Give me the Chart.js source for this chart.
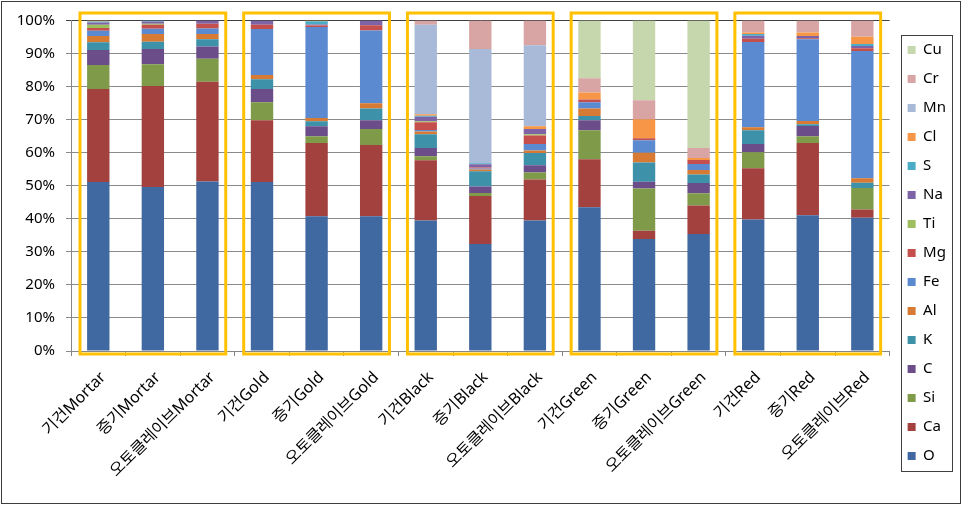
<!DOCTYPE html>
<html>
<head>
<meta charset="utf-8">
<script src="https://cdn.jsdelivr.net/npm/chart.js@4/dist/chart.umd.min.js"></script>
<style>
  html, body { margin: 0; padding: 0; background: #fff; }
  #wrap { width: 963px; height: 506px; position: relative; }
</style>
</head>
<body>
<div id="wrap"><canvas id="chart"></canvas></div>
<script>
// 카테고리
const categories = [
  '기건Mortar', '증기Mortar', '오토클레이브Mortar',
  '기건Gold', '증기Gold', '오토클레이브Gold',
  '기건Black', '증기Black', '오토클레이브Black',
  '기건Green', '증기Green', '오토클레이브Green',
  '기건Red', '증기Red', '오토클레이브Red'
];

// 원소별 비율 (%), 아래에서 위로 쌓이는 순서
const O  = [51.1, 49.6, 51.3, 51.1, 40.8, 40.8, 39.5, 32.4, 39.5, 43.5, 33.9, 35.4, 39.8, 41.1, 40.3];
const Ca = [28.2, 30.6, 30.2, 18.7, 22.1, 21.5, 18.2, 14.5, 12.4, 14.5, 2.5, 8.6, 15.5, 21.8, 2.5];
const Si = [7.2, 6.6, 6.9, 5.5, 2.1, 4.9, 1.2, 0.9, 2.1, 8.8, 12.8, 3.7, 4.8, 2.1, 6.5];
const C  = [4.6, 4.6, 3.7, 4.0, 3.0, 2.6, 2.5, 2.0, 2.2, 3.0, 2.0, 3.1, 2.5, 3.1, 0];
const K  = [2.3, 2.2, 2.2, 2.9, 1.5, 3.6, 4.2, 4.6, 3.7, 1.3, 5.8, 2.6, 4.2, 0.5, 1.6];
const Al = [1.9, 2.3, 1.6, 1.3, 1.0, 1.6, 0.8, 0.5, 0.8, 2.3, 3.0, 1.4, 0.9, 1.0, 1.4];
const Fe = [1.6, 1.6, 1.7, 13.9, 27.5, 22.0, 0.5, 0.3, 1.9, 1.9, 3.8, 1.8, 25.8, 24.7, 38.5];
const Mg = [0.8, 1.2, 1.4, 1.3, 0.5, 1.6, 2.3, 0.3, 2.6, 0.8, 0.6, 1.2, 1.0, 0.3, 0.8];
const Ti = [1.0, 0.3, 0, 0, 0, 0, 0.3, 0, 0.4, 0, 0, 0, 0, 0, 0];
const Na = [0.7, 0.7, 1.0, 1.3, 0.3, 1.4, 1.4, 1.0, 1.6, 0, 0, 0, 0.9, 0.7, 0.7];
const S  = [0.3, 0.3, 0, 0, 1.0, 0, 0.3, 0.3, 0, 0, 0, 0, 0.5, 0, 0.6];
const Cl = [0.3, 0, 0, 0, 0.2, 0, 0.4, 0, 0.8, 2.1, 5.7, 0.6, 0.5, 1.1, 2.2];
const Mn = [0, 0, 0, 0, 0, 0, 27.1, 34.6, 24.5, 0, 0, 0, 0, 0, 0];
const Cr = [0, 0, 0, 0, 0, 0, 1.3, 8.6, 7.5, 4.3, 5.8, 3.0, 3.6, 3.6, 4.9];
const Cu = [0, 0, 0, 0, 0, 0, 0, 0, 0, 17.5, 24.1, 38.6, 0, 0, 0];

const seriesNames = ['O', 'Ca', 'Si', 'C', 'K', 'Al', 'Fe', 'Mg', 'Ti', 'Na', 'S', 'Cl', 'Mn', 'Cr', 'Cu'];
const seriesValues = [O, Ca, Si, C, K, Al, Fe, Mg, Ti, Na, S, Cl, Mn, Cr, Cu];
const seriesColors = [
  '#4169A1', '#A2413E', '#7F9B4A', '#6B4D8A', '#3D91A9', '#D67A34', '#5B8AD0',
  '#C44F4C', '#9EBD5C', '#7E63A6', '#4BACC6', '#F79646', '#A9BAD8', '#D9A5A4', '#C6D7AE'
];

const tickLabels = ['0%', '10%', '20%', '30%', '40%', '50%', '60%', '70%', '80%', '90%', '100%'];

// 100% 누적: 카테고리별 합계로 정규화
const totals = categories.map((_, i) => seriesValues.reduce((s, arr) => s + arr[i], 0));

const FONT = '"Noto Sans", "Noto Sans CJK KR", sans-serif';

/**
 * 그룹 강조 박스 (노란 테두리)
 */
const groupBoxes = {
  id: 'groupBoxes',
  afterDatasetsDraw(chart) {
    const { ctx, scales: { x, y } } = chart;
    const top = y.getPixelForValue(100) - 7.5;
    const bottom = y.getPixelForValue(0) + 3;
    ctx.save();
    ctx.strokeStyle = '#FFC000';
    ctx.lineWidth = 3;
    for (let g = 0; g < 5; g++) {
      const left = x.getPixelForValue(g * 3) - 18.3;
      const right = x.getPixelForValue(g * 3 + 2) + 18.3;
      ctx.strokeRect(left, top, right - left, bottom - top);
    }
    ctx.restore();
  }
};

/**
 * 범례 테두리 + 전체 외곽선
 */
const frames = {
  id: 'frames',
  afterDraw(chart) {
    const { ctx, legend } = chart;
    ctx.save();
    ctx.strokeStyle = '#3c3c3c';
    ctx.lineWidth = 1;
    ctx.strokeRect(1.5, 1.5, 959, 502);
    if (legend && legend.legendHitBoxes.length) {
      const hb = legend.legendHitBoxes;
      const l = Math.min(...hb.map(b => b.left)) - 7;
      const t = Math.min(...hb.map(b => b.top)) - 8;
      const b = Math.max(...hb.map(b => b.top + b.height)) + 7;
      ctx.strokeStyle = '#404040';
      ctx.strokeRect(Math.round(l) + 0.5, Math.round(t) + 0.5, 51, Math.round(b - t));
    }
    ctx.restore();
  }
};

new Chart(document.getElementById('chart'), {
  type: 'bar',
  data: {
    labels: categories,
    datasets: seriesNames.map((name, k) => ({
      label: name,
      data: seriesValues[k].map((v, i) => v / totals[i] * 100),
      backgroundColor: seriesColors[k],
      borderWidth: 0,
      barPercentage: 1,
      categoryPercentage: 0.41
    }))
  },
  options: {
    responsive: true,
    maintainAspectRatio: false,
    animation: false,
    layout: { padding: { left: 0, top: 0, bottom: 0, right: 7 } },
    plugins: {
      legend: {
        display: true,
        position: 'right',
        reverse: true,
        labels: {
          boxWidth: 8,
          boxHeight: 8,
          padding: 14,
          color: '#000',
          font: { family: FONT, size: 15 }
        }
      },
      tooltip: { enabled: false }
    },
    scales: {
      x: {
        stacked: true,
        grid: {
          display: true,
          drawOnChartArea: false,
          drawTicks: true,
          tickLength: 5,
          color: '#868686'
        },
        border: { color: '#868686' },
        ticks: {
          autoSkip: false,
          maxRotation: 45,
          minRotation: 45,
          padding: 12,
          labelOffset: 5,
          color: '#000',
          font: { family: FONT, size: 16 }
        },
        afterFit(scale) { scale.height = 155; }
      },
      y: {
        stacked: true,
        min: 0,
        max: 100,
        grid: {
          color: ctx => (ctx.tick && ctx.tick.value === 100 ? '#404040' : '#8a8a8a'),
          tickLength: 5
        },
        border: { color: '#868686' },
        ticks: {
          stepSize: 10,
          padding: 11,
          color: '#000',
          font: { family: FONT, size: 15 },
          callback: (v) => tickLabels[Math.round(v / 10)]
        },
        afterFit(scale) { scale.width = 71; scale.paddingTop = 20.5; }
      },
      gap: {
        position: 'right',
        min: 0,
        max: 100,
        grid: { display: false },
        border: { display: false },
        ticks: { display: false },
        afterFit(scale) { scale.width = 4; }
      }
    }
  },
  plugins: [groupBoxes, frames]
});
</script>
</body>
</html>
